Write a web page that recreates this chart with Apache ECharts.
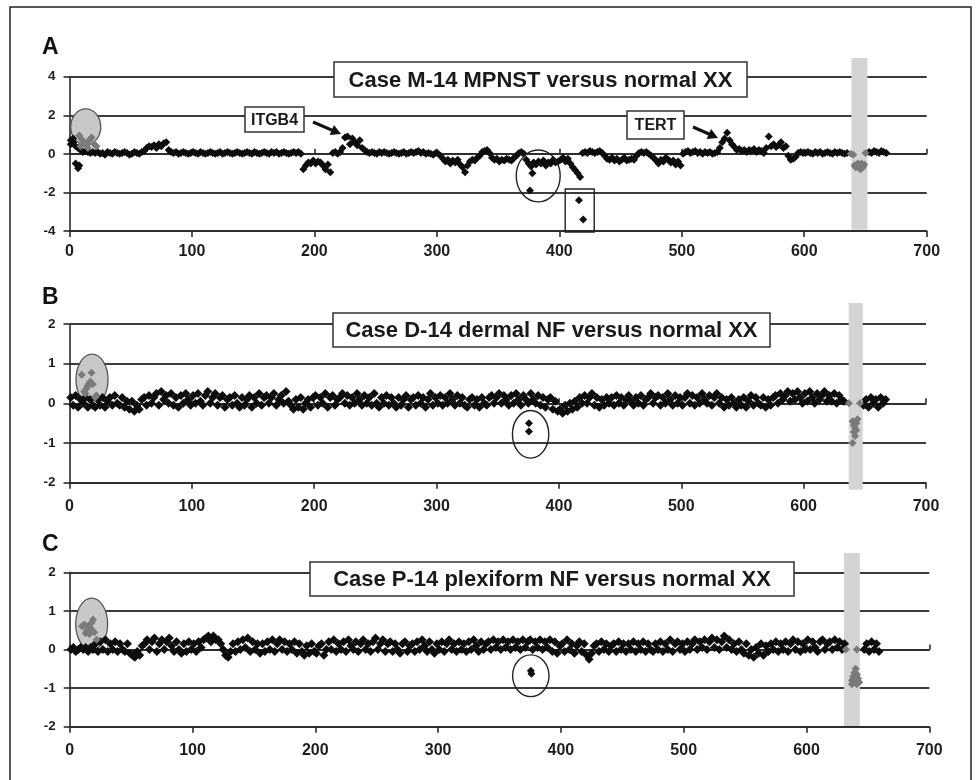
<!DOCTYPE html>
<html><head><meta charset="utf-8">
<script src="https://cdn.jsdelivr.net/npm/echarts@6/dist/echarts.min.js"></script>
<style>html,body{margin:0;padding:0;background:#fff}#c{width:976px;height:780px}</style>
</head><body><div id="c"></div>
<script>
// ---------- data ----------
const xStart = 1, xStep = 2;            // probe index of first value, spacing
const xTicks = { min: 0, max: 700, interval: 100 };
const panelLetters = ['A', 'B', 'C'];
const panelTitles = ['Case M-14 MPNST versus normal XX', 'Case D-14 dermal NF versus normal XX', 'Case P-14 plexiform NF versus normal XX'];
const yRanges = [[-4, 4, 2], [-2, 2, 1], [-2, 2, 1]];
const geneLabels = ['ITGB4', 'TERT'];

const aMain = [
 0.5,0.6,0.4,0.3,0.2,0.1,0.15,0.1,0.05,0.1,
 0.05,0.1,0,0.05,-0.05,0.1,0.05,0,0.1,0.05,
 0,0.05,0.1,0.05,-0.05,0,0.1,0.05,0,0.1,
 0.15,0.3,0.4,0.35,0.45,0.3,0.5,0.4,0.55,0.6,
 0.2,0.1,0.05,0.1,0,0.05,0.1,0.05,0,0.05,
 0.1,0.05,0,0.1,0.05,0,0.05,0.1,0.05,0,
 0.05,0.1,0,0.05,0.1,0.05,0,0.05,0.1,0.05,
 0,0.05,0.1,0.05,0,0.1,0.05,0,0.05,0.1,
 0.05,0,0.1,0.05,0.1,0,0.05,0.1,0.05,0,
 0.05,0.1,0.05,0.1,0,-0.8,-0.6,-0.45,-0.5,-0.35,
 -0.5,-0.4,-0.45,-0.6,-0.8,-0.55,-0.95,0.05,0.1,0,
 0.1,0.3,0.85,0.9,0.5,0.8,0.6,0.45,0.7,0.3,
 0.2,0.1,0.05,0.1,0.05,0,0.1,0.05,0.1,0.05,
 0,0.05,0.1,0.05,0,0.05,0.1,0,0.05,0.1,
 0.05,0.1,0.15,0.05,0.1,0,0.05,0,-0.05,0.05,
 0,-0.1,-0.25,-0.4,-0.3,-0.5,-0.35,-0.45,-0.3,-0.55,
 -0.7,-0.95,-0.6,-0.4,-0.3,-0.35,-0.2,-0.1,0.1,0.15,
 0.2,0.05,-0.2,-0.3,-0.25,-0.4,-0.3,-0.35,-0.25,-0.3,
 -0.35,-0.2,-0.1,0.05,0.1,0,-0.3,-0.5,-0.65,-0.45,
 -0.55,-0.4,-0.5,-0.35,-0.6,-0.45,-0.5,-0.3,-0.45,-0.4,
 -0.3,-0.2,-0.4,-0.25,-0.5,-0.7,-0.85,-1.0,-1.2,0.05,
 0.1,0.05,0.15,0.1,0.05,0.1,0.15,0.05,-0.1,-0.25,
 -0.3,-0.2,-0.35,-0.25,-0.4,-0.3,-0.2,-0.35,-0.3,-0.25,
 -0.3,-0.1,0.05,0.1,0.05,0.1,0,-0.1,-0.2,-0.35,
 -0.5,-0.3,-0.4,-0.2,-0.3,-0.45,-0.35,-0.55,-0.4,-0.6,
 0,0.1,0.15,0.05,0.1,0.15,0.05,0.1,0,0.1,
 0.05,0.1,0,0.05,0.1,0.3,0.6,0.8,1.1,0.7,
 0.5,0.35,0.2,0.25,0.15,0.2,0.1,0.2,0.15,0.25,
 0.1,0.2,0.15,0.05,0.3,0.9,0.4,0.5,0.35,0.45,
 0.6,0.3,0.4,-0.1,-0.3,-0.25,-0.15,0.05,0.1,0.05,
 0.05,0.1,0.05,0,0.1,0.05,0.1,0,0.05,0.1,
 0.05,0,0.1,0.05,0.1,0.05,0,0.05,null,null,
 null,null,null,null,null,null,0.1,0.05,0.15,0.1,
 0.05,0.15,0.1,0.05
];
const aExtra = [[1,0.7],[3,0.8],[5,-0.5],[7,-0.75],[8,-0.6],[376,-1.9],[378,-1.0],[416,-2.4],[419.5,-3.4]];
const aGray = [[8,0.95],[10,0.75],[12,0.55],[14,0.45],[16,0.7],[18,0.85],[20,0.5],[22,0.4],[9,0.4],[15,0.3],
 [638,0],[640,-0.05],[650,0.05],[641,-0.6],[642,-0.7],[643,-0.55],[644,-0.65],[645,-0.75],[646,-0.6],[647,-0.5],[648,-0.7],[649,-0.55],[644,-0.5],[646,-0.8]];

const bMain = [
 0.15,-0.05,0.2,-0.1,0.1,0,0.15,-0.1,0.1,-0.05,
 -0.1,0.1,-0.05,0.15,-0.1,0.05,0.15,-0.05,0.2,0,
 -0.05,0.15,-0.1,0.05,-0.15,0.05,-0.2,-0.05,-0.15,0.1,
 0.15,-0.05,0.2,0,0.15,0.25,-0.05,0.3,0.1,0.2,
 0,0.25,-0.05,0.15,-0.1,0.2,0,0.25,0.1,-0.05,
 0.2,0,0.25,0.05,-0.05,0.2,0.3,0,0.15,0.25,
 -0.05,0.15,0.2,-0.1,0.1,0.15,-0.05,0.2,0,-0.1,
 0.15,-0.05,0.1,0.2,-0.1,0.15,0,0.25,-0.05,0.15,
 0.2,0,0.15,0.25,-0.05,0.1,0.2,0,0.3,0.05,
 -0.05,-0.15,0.1,-0.1,0.15,-0.15,0,0.1,-0.1,0.15,
 0.2,-0.05,0.15,0,0.25,-0.1,0.15,0.2,-0.05,0.1,
 0.15,0.25,0,0.2,-0.05,0.15,0,0.25,0.1,-0.05,
 0.2,0,0.15,-0.05,0.25,0,-0.1,0.15,0,0.2,
 -0.05,0.15,0,-0.1,0.15,-0.05,0.1,0.2,-0.1,0.1,
 0.15,-0.05,0.2,0,0.15,-0.1,0.1,0.25,-0.05,0.15,
 0,0.2,-0.05,0.15,0,0.25,0.1,-0.05,0.2,0,
 0.15,-0.05,-0.1,0.1,0.15,-0.05,0.1,-0.1,0.15,0,
 -0.05,0.15,0.2,0,0.15,0.25,0,0.2,0.1,-0.05,
 0.2,0,0.25,0.1,-0.05,0.2,0.1,0,0.25,0.1,
 0,0.2,-0.05,0.15,-0.1,0.1,0.15,-0.15,0.05,-0.2,
 -0.15,-0.25,-0.05,-0.2,0,-0.15,0.05,-0.1,0.15,0,
 0.2,0,0.15,0.25,-0.05,0.15,-0.1,0.1,-0.05,0.15,
 0,0.15,-0.05,0.2,0,0.15,-0.05,0.1,0.2,0.05,
 -0.05,0.15,0,0.2,-0.05,0.1,0.15,0.25,0,0.15,
 0.2,-0.05,0.15,0,0.25,0.1,-0.05,0.2,0,0.15,
 -0.05,0.15,0.25,0,0.2,-0.05,0.15,0,0.25,0.1,
 0,0.2,-0.05,0.15,0.25,0,0.15,-0.1,0.1,-0.05,
 0.15,0,-0.1,0.1,-0.05,0.15,-0.1,0.05,0.2,-0.05,
 0.15,0,-0.05,0.15,-0.1,0.1,-0.05,0.15,0.2,0,
 0.25,0.1,0.2,0.3,0.05,0.25,0.1,0.3,0.15,0,
 0.25,0.05,0.3,0.15,0,0.25,0.1,0.2,0.3,0.05,
 0.2,0.05,0.25,0,0.2,0.1,0.05,null,null,null,
 null,null,null,null,-0.05,0.1,-0.1,0.15,0,0.1,
 -0.1,0.15,0,0.1
];
const bExtra = [[375.5,-0.5],[375.5,-0.71]];
const bGray = [[10,0.72],[18,0.77],[12,0.3],[13,0.25],[14,0.38],[15,0.45],[16,0.5],[17,0.55],[19,0.48],[21,0.15],[22,0.2],
 [637,0],[646,0],[640,-0.45],[641,-0.55],[642,-0.62],[643,-0.5],[644,-0.4],[641,-0.72],[642,-0.82],[643,-0.68],[640,-1.0]];

const cMain = [
 0,0.05,-0.05,0,0.05,0,0.05,-0.05,0.05,0,
 0.15,-0.05,0.2,0,0.25,-0.05,0.15,0,0.2,-0.05,
 0.15,0,-0.05,0.15,-0.1,-0.15,-0.2,-0.05,-0.15,0.1,
 0.15,0.25,0,0.2,0.3,-0.05,0.15,0.25,0,0.2,
 0.3,0.1,-0.05,0.2,0,-0.1,0.15,-0.05,0.2,0,
 0.15,-0.05,0.2,0.05,0.25,0.3,0.35,0.2,0.35,0.25,
 0.25,0.15,0,-0.15,-0.2,-0.05,0.15,-0.05,0.2,0,
 0.25,0.05,0.3,-0.05,0.2,0,0.15,-0.1,0.15,-0.05,
 0.2,0,0.25,-0.05,0.15,0.25,0,0.2,-0.05,0.15,
 0,0.2,-0.1,0.15,-0.05,-0.15,0.1,-0.1,0.15,-0.05,
 -0.1,0.1,0.15,-0.15,0,0.2,0,0.25,-0.05,0.15,
 0,0.2,-0.05,0.25,0.1,0,0.2,-0.05,0.15,0.25,
 0,0.15,-0.05,0.2,0.3,0,0.15,0.25,-0.05,0.15,
 0.2,-0.05,0.15,0,-0.1,0.15,0.2,-0.05,0.1,0.15,
 -0.05,0.2,0,0.25,0.1,-0.05,0.2,0,-0.1,0.15,
 0,0.2,-0.05,0.15,0.25,0,0.15,-0.05,0.2,0,
 0.15,-0.05,0.2,0,0.25,0.1,-0.05,0.2,0,0.15,
 0.2,0,0.25,0.05,0.2,0,0.25,0.05,0.2,0,
 0.25,0.05,0.2,0,0.25,0.05,0.2,0.25,0,0.2,
 0.05,0.25,0,0.2,0.05,0.25,-0.05,0.2,-0.1,0.1,
 0.15,-0.05,0.25,0,0.15,-0.1,0.1,0.2,-0.05,0.15,
 -0.15,-0.25,-0.1,0.1,0.15,-0.05,0.2,0,0.15,-0.05,
 0.1,0.15,-0.05,0.2,0,0.15,-0.05,0.15,0,0.2,
 -0.05,0.15,0,0.2,-0.05,0.15,0,-0.05,0.15,0,
 0.2,-0.05,0.15,0,0.25,-0.05,0.15,0.2,0,0.15,
 -0.05,0.2,0,0.15,0.25,0,0.2,0.05,0.25,0,
 0.2,0.3,0.05,0.25,0,0.2,0.35,0.05,0.25,0,
 0.15,-0.05,0.2,0,-0.1,0.15,-0.15,0,-0.2,0.05,
 -0.1,0.15,-0.15,0.1,-0.05,0.15,0,0.2,-0.05,0.15,
 0,0.2,-0.05,0.15,0.25,0,0.2,-0.05,0.15,0,
 0.25,0,0.2,0.05,-0.05,0.2,0.25,0,0.15,0.2,
 0,0.25,0.05,0.2,0,0.15,null,null,null,null,
 null,null,null,0,0.15,-0.05,0.2,0,0.15,-0.05
];
const cExtra = [[375.5,-0.55],[376,-0.63]];
const cGray = [[10,0.6],[12,0.65],[13,0.42],[14,0.5],[15,0.6],[16,0.4],[17,0.55],[18,0.7],[19,0.78],[20,0.45],[22,0.25],
 [632,0],[641,0],[640,-0.5],[639,-0.6],[641,-0.65],[638,-0.7],[642,-0.75],[637,-0.8],[643,-0.85],[640,-0.85],[639,-0.75],[641,-0.9],[637,-0.9]];

// highlight shapes in data units: [xFrom, xTo, yFrom, yTo]
const grayEllipses = [[1.0,25.5,0.46,2.33],[5.3,31.5,-0.04,1.24],[4.9,30.9,-0.01,1.33]];
const blackCircles = [[364.8,400.7,-2.49,0.2],[362,391.7,-1.38,-0.18],[360.7,390.3,-1.22,-0.14]];
const grayBands = [[638.5,651.6,-3.94,4.97],[636.8,648.3,-2.18,2.53],[630.5,643.5,-1.98,2.5]];
const boxA = [404.8,428.5,-4.05,-1.82];

// ---------- layout ----------
const FONT = '"Liberation Sans", Arial, Helvetica, sans-serif';
const grids = [
  {left: 69.5, top: 76.7, width: 857.2, height: 154.3},
  {left: 69.5, top: 324, width: 856.5, height: 158.7},
  {left: 69.7, top: 572.3, width: 859.6, height: 154.4}
];
const xLabelMargin = [13, 16, 16];
const mainSymbolSize = [8, 9, 9];

const mains = [aMain, bMain, cMain], extras = [aExtra, bExtra, cExtra], grays = [aGray, bGray, cGray];
const toPairs = arr => arr.map((v, i) => v === null ? null : [xStart + xStep * i, v]).filter(d => d);

const xAxes = [], yAxes = [], series = [];
grids.forEach((g, i) => {
  xAxes.push({
    type: 'value', gridIndex: i, min: xTicks.min, max: xTicks.max, interval: xTicks.interval,
    axisLine: {onZero: false, lineStyle: {color: '#2a2a2a', width: 1.6}},
    axisTick: {show: true, length: 6, lineStyle: {color: '#2a2a2a', width: 1.6}},
    axisLabel: {margin: xLabelMargin[i], fontSize: 16, fontWeight: 'bold', color: '#1e1e1e', fontFamily: FONT},
    splitLine: {show: false}
  });
  yAxes.push({
    type: 'value', gridIndex: i, min: yRanges[i][0], max: yRanges[i][1], interval: yRanges[i][2],
    axisLine: {show: true, lineStyle: {color: '#2a2a2a', width: 1.6}},
    axisTick: {show: true, length: 6, lineStyle: {color: '#2a2a2a', width: 1.6}},
    axisLabel: {margin: 14, fontSize: 13.5, fontWeight: 'bold', color: '#1e1e1e', fontFamily: FONT},
    splitLine: {show: true, lineStyle: {color: '#3c3c3c', width: 1.8}}
  });
});
grids.forEach((g, i) => {
  xAxes.push({
    type: 'value', gridIndex: i, min: xTicks.min, max: xTicks.max, interval: xTicks.interval,
    axisLine: {onZero: true, onZeroAxisIndex: i, lineStyle: {color: '#2a2a2a', width: 1.6}},
    axisTick: {show: true, length: 5, lineStyle: {color: '#2a2a2a', width: 1.6}},
    axisLabel: {show: false}, splitLine: {show: false}
  });
});
grids.forEach((g, i) => {
  const common = {type: 'scatter', xAxisIndex: i, yAxisIndex: i, symbol: 'diamond', symbolSize: 8, z: 3};
  series.push(Object.assign({}, common, {data: toPairs(mains[i]), symbolSize: mainSymbolSize[i], itemStyle: {color: '#0d0d0d', opacity: 1}}));
  series.push(Object.assign({}, common, {data: extras[i], itemStyle: {color: '#0d0d0d', opacity: 1}}));
  series.push(Object.assign({}, common, {data: grays[i], itemStyle: {color: '#7a7a7a', opacity: 1}}));
});

const chart = echarts.init(document.getElementById('c'), null, {renderer: 'canvas'});
chart.setOption({
  animation: false, backgroundColor: '#fff',
  grid: grids, xAxis: xAxes, yAxis: yAxes, series: series
});

// ---------- annotations ----------
const px = (g, x, y) => chart.convertToPixel({gridIndex: g}, [x, y]);
const els = [];
els.push({type: 'rect', shape: {x: 10, y: 7, width: 961, height: 790}, style: {fill: 'none', stroke: '#222', lineWidth: 1.5}, z: 20});

grids.forEach((g, i) => {
  const b = grayBands[i], b0 = px(i, b[0], b[3]), b1 = px(i, b[1], b[2]);
  els.push({type: 'rect', shape: {x: b0[0], y: b0[1], width: b1[0] - b0[0], height: b1[1] - b0[1]}, style: {fill: '#d4d4d4'}, z: 1});
  const e = grayEllipses[i], e0 = px(i, e[0], e[3]), e1 = px(i, e[1], e[2]);
  els.push({type: 'ellipse', shape: {cx: (e0[0] + e1[0]) / 2, cy: (e0[1] + e1[1]) / 2, rx: (e1[0] - e0[0]) / 2, ry: (e1[1] - e0[1]) / 2},
    style: {fill: '#c8c8c8', stroke: '#555', lineWidth: 1.3}, z: 1});
  const c = blackCircles[i], c0 = px(i, c[0], c[3]), c1 = px(i, c[1], c[2]);
  els.push({type: 'ellipse', shape: {cx: (c0[0] + c1[0]) / 2, cy: (c0[1] + c1[1]) / 2, rx: (c1[0] - c0[0]) / 2, ry: (c1[1] - c0[1]) / 2},
    style: {fill: 'none', stroke: '#222', lineWidth: 1.4}, z: 4});
});
{
  const r0 = px(0, boxA[0], boxA[3]), r1 = px(0, boxA[1], boxA[2]);
  els.push({type: 'rect', shape: {x: r0[0], y: r0[1], width: r1[0] - r0[0], height: r1[1] - r0[1]}, style: {fill: 'none', stroke: '#222', lineWidth: 1.4}, z: 4});
}

const letterY = [47.5, 297.5, 544.5];
panelLetters.forEach((L, i) => {
  els.push({type: 'text', x: 42, y: letterY[i], z: 10,
    style: {text: L, font: 'bold 23px ' + FONT, fill: '#111', align: 'left', verticalAlign: 'middle', textAlign: 'left', textVerticalAlign: 'middle'}});
});

const titleBoxes = [[334, 62, 413, 35], [333, 313, 437, 34], [310, 562, 484, 34]];
panelTitles.forEach((t, i) => {
  const r = titleBoxes[i];
  els.push({type: 'rect', shape: {x: r[0], y: r[1], width: r[2], height: r[3]}, style: {fill: '#fff', stroke: '#333', lineWidth: 1.5}, z: 10});
  els.push({type: 'text', x: r[0] + r[2] / 2, y: r[1] + r[3] / 2 + 1, z: 11,
    style: {text: t, font: 'bold 22px ' + FONT, fill: '#1a1a1a', align: 'center', verticalAlign: 'middle', textAlign: 'center', textVerticalAlign: 'middle'}});
});

const geneBoxes = [[245, 107, 59, 25], [627, 111, 57, 28]];
const geneArrows = [[[313, 122], [341, 134]], [[693, 127], [718, 138]]];
geneLabels.forEach((t, i) => {
  const r = geneBoxes[i];
  els.push({type: 'rect', shape: {x: r[0], y: r[1], width: r[2], height: r[3]}, style: {fill: '#fff', stroke: '#333', lineWidth: 1.5}, z: 10});
  els.push({type: 'text', x: r[0] + r[2] / 2, y: r[1] + r[3] / 2 + 1, z: 11,
    style: {text: t, font: 'bold 16px ' + FONT, fill: '#1a1a1a', align: 'center', verticalAlign: 'middle', textAlign: 'center', textVerticalAlign: 'middle'}});
  const p0 = geneArrows[i][0], p1 = geneArrows[i][1];
  const dx = p1[0] - p0[0], dy = p1[1] - p0[1], L = Math.hypot(dx, dy), ux = dx / L, uy = dy / L;
  const hl = 10, hw = 5.5, bx = p1[0] - ux * hl, by = p1[1] - uy * hl;
  els.push({type: 'line', shape: {x1: p0[0], y1: p0[1], x2: bx + ux * 2, y2: by + uy * 2}, style: {stroke: '#111', lineWidth: 3.2}, z: 10});
  els.push({type: 'polygon', shape: {points: [[p1[0], p1[1]], [bx - uy * hw, by + ux * hw], [bx + uy * hw, by - ux * hw]]}, style: {fill: '#111'}, z: 10});
});

chart.setOption({graphic: {elements: els}});
</script>
</body></html>
